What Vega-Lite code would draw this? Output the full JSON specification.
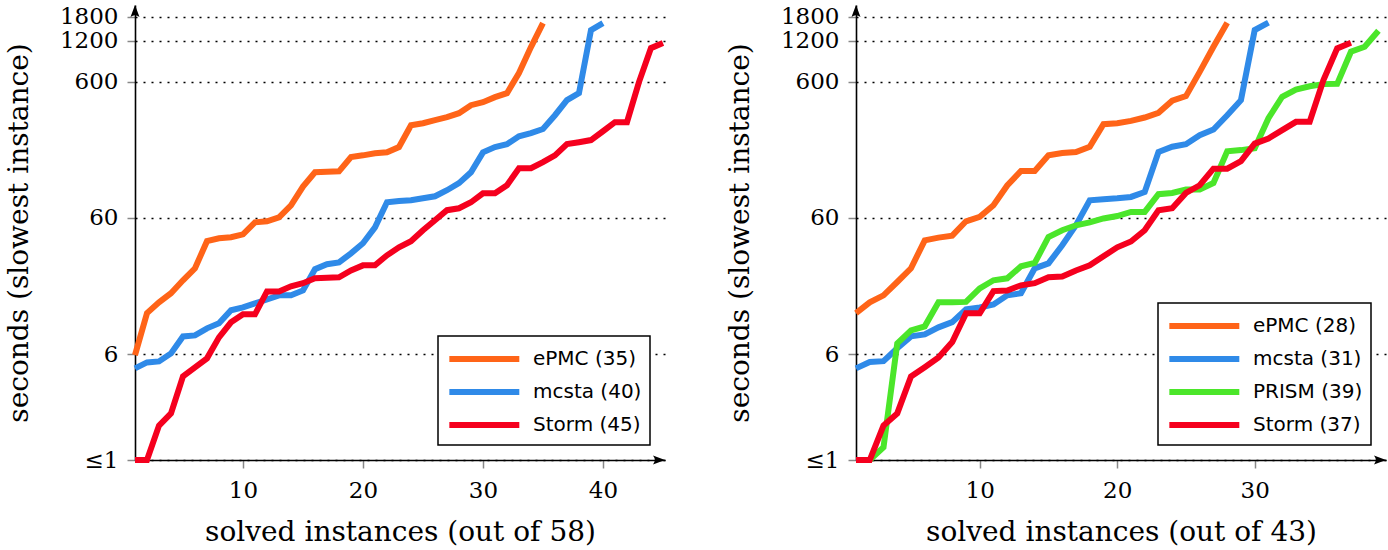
{
  "$schema": "https://vega.github.io/schema/vega-lite/v6.json",
  "padding": {"left": 5, "top": 5, "right": 0, "bottom": 0},
  "background": "white",
  "spacing": 51,
  "config": {
    "view": {"stroke": null},
    "font": "DejaVu Serif",
    "axis": {"labelFont": "DejaVu Serif", "labelFontSize": 23, "labelColor": "black", "titleFont": "DejaVu Serif", "titleFontSize": 28, "titleFontWeight": "normal", "titleColor": "black", "domainColor": "black", "domainWidth": 1.6, "tickColor": "#888888", "tickWidth": 1.5, "tickSize": 8, "labelOverlap": false, "labelFlush": false},
    "axisX": {"grid": false, "labelPadding": 11, "titlePadding": 16},
    "axisY": {"grid": true, "gridColor": "black", "gridDash": [2, 6], "gridWidth": 1.6, "labelPadding": 9, "titlePadding": 26},
    "legend": {"orient": "bottom-right", "offset": 15, "labelFont": "DejaVu Sans", "labelFontSize": 20, "labelColor": "black", "symbolType": "M-1,0H5", "symbolSize": 544, "symbolStrokeWidth": 6, "symbolOpacity": 1, "strokeColor": "black", "fillColor": "white", "strokeWidth": 1.5, "padding": 8, "rowPadding": 6, "labelOffset": 57, "labelLimit": 300}
  },
  "resolve": {"scale": {"color": "independent"}, "legend": {"color": "independent"}},
  "hconcat": [
    {
      "width": 530, "height": 455,
      "layer": [
        {
          "data": {"values": [
            {"n":1,"t":5.9,"s":"ePMC (35)"},{"n":2,"t":12,"s":"ePMC (35)"},{"n":3,"t":14.4,"s":"ePMC (35)"},{"n":4,"t":16.8,"s":"ePMC (35)"},{"n":5,"t":20.9,"s":"ePMC (35)"},{"n":6,"t":25.6,"s":"ePMC (35)"},{"n":7,"t":40.5,"s":"ePMC (35)"},{"n":8,"t":42.5,"s":"ePMC (35)"},{"n":9,"t":43.3,"s":"ePMC (35)"},{"n":10,"t":45.5,"s":"ePMC (35)"},
            {"n":11,"t":55.7,"s":"ePMC (35)"},{"n":12,"t":56.7,"s":"ePMC (35)"},{"n":13,"t":60.7,"s":"ePMC (35)"},{"n":14,"t":74.3,"s":"ePMC (35)"},{"n":15,"t":102,"s":"ePMC (35)"},{"n":16,"t":130,"s":"ePMC (35)"},{"n":17,"t":131,"s":"ePMC (35)"},{"n":18,"t":132,"s":"ePMC (35)"},{"n":19,"t":168,"s":"ePMC (35)"},{"n":20,"t":173,"s":"ePMC (35)"},
            {"n":21,"t":179,"s":"ePMC (35)"},{"n":22,"t":182,"s":"ePMC (35)"},{"n":23,"t":199,"s":"ePMC (35)"},{"n":24,"t":288,"s":"ePMC (35)"},{"n":25,"t":298,"s":"ePMC (35)"},{"n":26,"t":314,"s":"ePMC (35)"},{"n":27,"t":330,"s":"ePMC (35)"},{"n":28,"t":353,"s":"ePMC (35)"},{"n":29,"t":404,"s":"ePMC (35)"},{"n":30,"t":425,"s":"ePMC (35)"},
            {"n":31,"t":463,"s":"ePMC (35)"},{"n":32,"t":495,"s":"ePMC (35)"},{"n":33,"t":695,"s":"ePMC (35)"},{"n":34,"t":1079,"s":"ePMC (35)"},{"n":35,"t":1620,"s":"ePMC (35)"},
            {"n":1,"t":4.71,"s":"mcsta (40)"},{"n":2,"t":5.21,"s":"mcsta (40)"},{"n":3,"t":5.3,"s":"mcsta (40)"},{"n":4,"t":6.07,"s":"mcsta (40)"},{"n":5,"t":8.09,"s":"mcsta (40)"},{"n":6,"t":8.23,"s":"mcsta (40)"},{"n":7,"t":9.27,"s":"mcsta (40)"},{"n":8,"t":10.1,"s":"mcsta (40)"},{"n":9,"t":12.6,"s":"mcsta (40)"},{"n":10,"t":13.2,"s":"mcsta (40)"},
            {"n":11,"t":14.15,"s":"mcsta (40)"},{"n":12,"t":15.1,"s":"mcsta (40)"},{"n":13,"t":16.2,"s":"mcsta (40)"},{"n":14,"t":16.2,"s":"mcsta (40)"},{"n":15,"t":17.6,"s":"mcsta (40)"},{"n":16,"t":25.2,"s":"mcsta (40)"},{"n":17,"t":27.4,"s":"mcsta (40)"},{"n":18,"t":28.3,"s":"mcsta (40)"},{"n":19,"t":33.0,"s":"mcsta (40)"},{"n":20,"t":39.1,"s":"mcsta (40)"},
            {"n":21,"t":51.2,"s":"mcsta (40)"},{"n":22,"t":78.2,"s":"mcsta (40)"},{"n":23,"t":80,"s":"mcsta (40)"},{"n":24,"t":80.9,"s":"mcsta (40)"},{"n":25,"t":83.7,"s":"mcsta (40)"},{"n":26,"t":86.6,"s":"mcsta (40)"},{"n":27,"t":95.9,"s":"mcsta (40)"},{"n":28,"t":108,"s":"mcsta (40)"},{"n":29,"t":130,"s":"mcsta (40)"},{"n":30,"t":182,"s":"mcsta (40)"},
            {"n":31,"t":199,"s":"mcsta (40)"},{"n":32,"t":209,"s":"mcsta (40)"},{"n":33,"t":239,"s":"mcsta (40)"},{"n":34,"t":252,"s":"mcsta (40)"},{"n":35,"t":270,"s":"mcsta (40)"},{"n":36,"t":341,"s":"mcsta (40)"},{"n":37,"t":440,"s":"mcsta (40)"},{"n":38,"t":495,"s":"mcsta (40)"},{"n":39,"t":1439,"s":"mcsta (40)"},{"n":40,"t":1620,"s":"mcsta (40)"},
            {"n":1,"t":1,"s":"Storm (45)"},{"n":2,"t":1,"s":"Storm (45)"},{"n":3,"t":1.79,"s":"Storm (45)"},{"n":4,"t":2.2,"s":"Storm (45)"},{"n":5,"t":4.11,"s":"Storm (45)"},{"n":6,"t":4.79,"s":"Storm (45)"},{"n":7,"t":5.58,"s":"Storm (45)"},{"n":8,"t":7.96,"s":"Storm (45)"},{"n":9,"t":10.26,"s":"Storm (45)"},{"n":10,"t":11.75,"s":"Storm (45)"},
            {"n":11,"t":11.75,"s":"Storm (45)"},{"n":12,"t":17.3,"s":"Storm (45)"},{"n":13,"t":17.3,"s":"Storm (45)"},{"n":14,"t":18.9,"s":"Storm (45)"},{"n":15,"t":19.9,"s":"Storm (45)"},{"n":16,"t":21.6,"s":"Storm (45)"},{"n":17,"t":21.8,"s":"Storm (45)"},{"n":18,"t":22.0,"s":"Storm (45)"},{"n":19,"t":24.7,"s":"Storm (45)"},{"n":20,"t":26.9,"s":"Storm (45)"},
            {"n":21,"t":26.9,"s":"Storm (45)"},{"n":22,"t":31.9,"s":"Storm (45)"},{"n":23,"t":36.5,"s":"Storm (45)"},{"n":24,"t":40.5,"s":"Storm (45)"},{"n":25,"t":48.7,"s":"Storm (45)"},{"n":26,"t":57.7,"s":"Storm (45)"},{"n":27,"t":68.4,"s":"Storm (45)"},{"n":28,"t":70.7,"s":"Storm (45)"},{"n":29,"t":78.2,"s":"Storm (45)"},{"n":30,"t":91.1,"s":"Storm (45)"},
            {"n":31,"t":91.1,"s":"Storm (45)"},{"n":32,"t":104.3,"s":"Storm (45)"},{"n":33,"t":139,"s":"Storm (45)"},{"n":34,"t":139,"s":"Storm (45)"},{"n":35,"t":154,"s":"Storm (45)"},{"n":36,"t":173,"s":"Storm (45)"},{"n":37,"t":209,"s":"Storm (45)"},{"n":38,"t":216,"s":"Storm (45)"},{"n":39,"t":224,"s":"Storm (45)"},{"n":40,"t":260,"s":"Storm (45)"},
            {"n":41,"t":303,"s":"Storm (45)"},{"n":42,"t":303,"s":"Storm (45)"},{"n":43,"t":597,"s":"Storm (45)"},{"n":44,"t":1061,"s":"Storm (45)"},{"n":45,"t":1155,"s":"Storm (45)"}
          ]},
          "mark": {"type": "line", "strokeWidth": 6, "clip": false},
          "encoding": {
            "x": {"field": "n", "type": "quantitative", "scale": {"domain": [1, 45.17], "nice": false, "zero": false}, "axis": {"values": [10, 20, 30, 40], "title": "solved instances (out of 58)"}},
            "y": {"field": "t", "type": "quantitative", "scale": {"type": "log", "domain": [1, 2200], "nice": false}, "axis": {"values": [1, 6, 60, 600, 1200, 1800], "labelExpr": "datum.value <= 1 ? '≤1\u00a0' : format(datum.value, 'd')", "title": "seconds (slowest instance)"}},
            "color": {"field": "s", "type": "nominal", "scale": {"domain": ["ePMC (35)", "mcsta (40)", "Storm (45)"], "range": ["#FF6418", "#2F8AE8", "#F5001E"]}, "legend": {"title": null}}
          }
        },
        {
          "data": {"values": [{"a": 1}]},
          "mark": {"type": "point", "shape": "M0,0L-2,-0.75Q-1.4,0,-2,0.75Z", "filled": true, "color": "black", "size": 144, "opacity": 1},
          "encoding": {"x": {"datum": 45.17, "type": "quantitative"}, "y": {"datum": 1, "type": "quantitative"}}
        },
        {
          "data": {"values": [{"a": 1}]},
          "mark": {"type": "point", "shape": "M0,0L-0.75,2Q0,1.4,0.75,2Z", "filled": true, "color": "black", "size": 144, "opacity": 1},
          "encoding": {"x": {"datum": 1, "type": "quantitative"}, "y": {"datum": 2200, "type": "quantitative"}}
        }
      ]
    },
    {
      "width": 530, "height": 455,
      "layer": [
        {
          "data": {"values": [
            {"n":1,"t":12.0,"s":"ePMC (28)"},{"n":2,"t":14.4,"s":"ePMC (28)"},{"n":3,"t":16.2,"s":"ePMC (28)"},{"n":4,"t":20.3,"s":"ePMC (28)"},{"n":5,"t":25.6,"s":"ePMC (28)"},{"n":6,"t":41.1,"s":"ePMC (28)"},{"n":7,"t":43,"s":"ePMC (28)"},{"n":8,"t":44.5,"s":"ePMC (28)"},{"n":9,"t":56.7,"s":"ePMC (28)"},{"n":10,"t":61.2,"s":"ePMC (28)"},
            {"n":11,"t":74.3,"s":"ePMC (28)"},{"n":12,"t":104,"s":"ePMC (28)"},{"n":13,"t":133,"s":"ePMC (28)"},{"n":14,"t":133,"s":"ePMC (28)"},{"n":15,"t":173,"s":"ePMC (28)"},{"n":16,"t":180,"s":"ePMC (28)"},{"n":17,"t":183,"s":"ePMC (28)"},{"n":18,"t":200,"s":"ePMC (28)"},{"n":19,"t":293,"s":"ePMC (28)"},{"n":20,"t":298,"s":"ePMC (28)"},
            {"n":21,"t":310,"s":"ePMC (28)"},{"n":22,"t":328,"s":"ePMC (28)"},{"n":23,"t":355,"s":"ePMC (28)"},{"n":24,"t":436,"s":"ePMC (28)"},{"n":25,"t":471,"s":"ePMC (28)"},{"n":26,"t":710,"s":"ePMC (28)"},{"n":27,"t":1085,"s":"ePMC (28)"},{"n":28,"t":1630,"s":"ePMC (28)"},
            {"n":1,"t":4.71,"s":"mcsta (31)"},{"n":2,"t":5.24,"s":"mcsta (31)"},{"n":3,"t":5.32,"s":"mcsta (31)"},{"n":4,"t":6.61,"s":"mcsta (31)"},{"n":5,"t":8.09,"s":"mcsta (31)"},{"n":6,"t":8.37,"s":"mcsta (31)"},{"n":7,"t":9.43,"s":"mcsta (31)"},{"n":8,"t":10.3,"s":"mcsta (31)"},{"n":9,"t":12.8,"s":"mcsta (31)"},{"n":10,"t":13.2,"s":"mcsta (31)"},
            {"n":11,"t":13.9,"s":"mcsta (31)"},{"n":12,"t":16.2,"s":"mcsta (31)"},{"n":13,"t":16.8,"s":"mcsta (31)"},{"n":14,"t":25.6,"s":"mcsta (31)"},{"n":15,"t":27.8,"s":"mcsta (31)"},{"n":16,"t":37.8,"s":"mcsta (31)"},{"n":17,"t":53.0,"s":"mcsta (31)"},{"n":18,"t":80.9,"s":"mcsta (31)"},{"n":19,"t":82.3,"s":"mcsta (31)"},{"n":20,"t":83.7,"s":"mcsta (31)"},
            {"n":21,"t":85.6,"s":"mcsta (31)"},{"n":22,"t":93.1,"s":"mcsta (31)"},{"n":23,"t":183,"s":"mcsta (31)"},{"n":24,"t":200,"s":"mcsta (31)"},{"n":25,"t":209,"s":"mcsta (31)"},{"n":26,"t":243,"s":"mcsta (31)"},{"n":27,"t":268,"s":"mcsta (31)"},{"n":28,"t":341,"s":"mcsta (31)"},{"n":29,"t":440,"s":"mcsta (31)"},{"n":30,"t":1439,"s":"mcsta (31)"},
            {"n":31,"t":1630,"s":"mcsta (31)"},
            {"n":1,"t":1,"s":"PRISM (39)"},{"n":2,"t":1,"s":"PRISM (39)"},{"n":3,"t":1.24,"s":"PRISM (39)"},{"n":4,"t":7.19,"s":"PRISM (39)"},{"n":5,"t":8.96,"s":"PRISM (39)"},{"n":6,"t":9.59,"s":"PRISM (39)"},{"n":7,"t":14.4,"s":"PRISM (39)"},{"n":8,"t":14.4,"s":"PRISM (39)"},{"n":9,"t":14.5,"s":"PRISM (39)"},{"n":10,"t":18.2,"s":"PRISM (39)"},
            {"n":11,"t":20.9,"s":"PRISM (39)"},{"n":12,"t":21.6,"s":"PRISM (39)"},{"n":13,"t":26.5,"s":"PRISM (39)"},{"n":14,"t":28.0,"s":"PRISM (39)"},{"n":15,"t":43.5,"s":"PRISM (39)"},{"n":16,"t":48.7,"s":"PRISM (39)"},{"n":17,"t":53,"s":"PRISM (39)"},{"n":18,"t":55.7,"s":"PRISM (39)"},{"n":19,"t":59.5,"s":"PRISM (39)"},{"n":20,"t":62.0,"s":"PRISM (39)"},
            {"n":21,"t":66.4,"s":"PRISM (39)"},{"n":22,"t":66.4,"s":"PRISM (39)"},{"n":23,"t":89.6,"s":"PRISM (39)"},{"n":24,"t":91.6,"s":"PRISM (39)"},{"n":25,"t":97,"s":"PRISM (39)"},{"n":26,"t":97,"s":"PRISM (39)"},{"n":27,"t":108.5,"s":"PRISM (39)"},{"n":28,"t":185,"s":"PRISM (39)"},{"n":29,"t":189,"s":"PRISM (39)"},{"n":30,"t":195,"s":"PRISM (39)"},
            {"n":31,"t":324,"s":"PRISM (39)"},{"n":32,"t":466,"s":"PRISM (39)"},{"n":33,"t":527,"s":"PRISM (39)"},{"n":34,"t":557,"s":"PRISM (39)"},{"n":35,"t":577,"s":"PRISM (39)"},{"n":36,"t":580,"s":"PRISM (39)"},{"n":37,"t":998,"s":"PRISM (39)"},{"n":38,"t":1085,"s":"PRISM (39)"},{"n":39,"t":1423,"s":"PRISM (39)"},
            {"n":1,"t":1,"s":"Storm (37)"},{"n":2,"t":1,"s":"Storm (37)"},{"n":3,"t":1.79,"s":"Storm (37)"},{"n":4,"t":2.2,"s":"Storm (37)"},{"n":5,"t":4.11,"s":"Storm (37)"},{"n":6,"t":4.81,"s":"Storm (37)"},{"n":7,"t":5.67,"s":"Storm (37)"},{"n":8,"t":7.35,"s":"Storm (37)"},{"n":9,"t":11.95,"s":"Storm (37)"},{"n":10,"t":11.95,"s":"Storm (37)"},
            {"n":11,"t":17.4,"s":"Storm (37)"},{"n":12,"t":17.6,"s":"Storm (37)"},{"n":13,"t":19.2,"s":"Storm (37)"},{"n":14,"t":19.9,"s":"Storm (37)"},{"n":15,"t":22.0,"s":"Storm (37)"},{"n":16,"t":22.3,"s":"Storm (37)"},{"n":17,"t":24.7,"s":"Storm (37)"},{"n":18,"t":26.9,"s":"Storm (37)"},{"n":19,"t":31.4,"s":"Storm (37)"},{"n":20,"t":36.5,"s":"Storm (37)"},
            {"n":21,"t":40.3,"s":"Storm (37)"},{"n":22,"t":48.7,"s":"Storm (37)"},{"n":23,"t":68.4,"s":"Storm (37)"},{"n":24,"t":70.7,"s":"Storm (37)"},{"n":25,"t":91.6,"s":"Storm (37)"},{"n":26,"t":104.3,"s":"Storm (37)"},{"n":27,"t":138,"s":"Storm (37)"},{"n":28,"t":138,"s":"Storm (37)"},{"n":29,"t":157,"s":"Storm (37)"},{"n":30,"t":211,"s":"Storm (37)"},
            {"n":31,"t":230,"s":"Storm (37)"},{"n":32,"t":265,"s":"Storm (37)"},{"n":33,"t":305,"s":"Storm (37)"},{"n":34,"t":305,"s":"Storm (37)"},{"n":35,"t":617,"s":"Storm (37)"},{"n":36,"t":1056,"s":"Storm (37)"},{"n":37,"t":1161,"s":"Storm (37)"}
          ]},
          "mark": {"type": "line", "strokeWidth": 6, "clip": false},
          "encoding": {
            "x": {"field": "n", "type": "quantitative", "scale": {"domain": [1, 39.55], "nice": false, "zero": false}, "axis": {"values": [10, 20, 30], "title": "solved instances (out of 43)"}},
            "y": {"field": "t", "type": "quantitative", "scale": {"type": "log", "domain": [1, 2200], "nice": false}, "axis": {"values": [1, 6, 60, 600, 1200, 1800], "labelExpr": "datum.value <= 1 ? '≤1\u00a0' : format(datum.value, 'd')", "title": "seconds (slowest instance)"}},
            "color": {"field": "s", "type": "nominal", "scale": {"domain": ["ePMC (28)", "mcsta (31)", "PRISM (39)", "Storm (37)"], "range": ["#FF6418", "#2F8AE8", "#4BE62A", "#F5001E"]}, "legend": {"title": null}}
          }
        },
        {
          "data": {"values": [{"a": 1}]},
          "mark": {"type": "point", "shape": "M0,0L-2,-0.75Q-1.4,0,-2,0.75Z", "filled": true, "color": "black", "size": 144, "opacity": 1},
          "encoding": {"x": {"datum": 39.55, "type": "quantitative"}, "y": {"datum": 1, "type": "quantitative"}}
        },
        {
          "data": {"values": [{"a": 1}]},
          "mark": {"type": "point", "shape": "M0,0L-0.75,2Q0,1.4,0.75,2Z", "filled": true, "color": "black", "size": 144, "opacity": 1},
          "encoding": {"x": {"datum": 1, "type": "quantitative"}, "y": {"datum": 2200, "type": "quantitative"}}
        }
      ]
    }
  ]
}
